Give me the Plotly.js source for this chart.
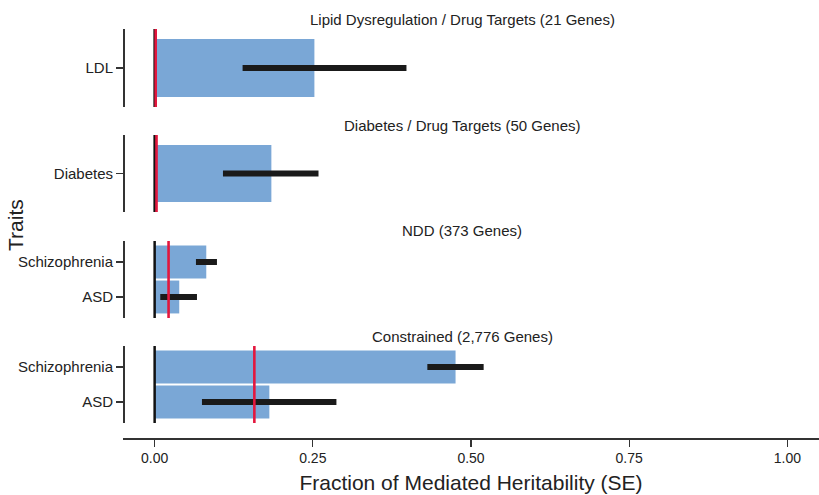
<!DOCTYPE html>
<html>
<head>
<meta charset="utf-8">
<script src="https://cdn.plot.ly/plotly-3.0.1.min.js"></script>
<style>html,body{margin:0;padding:0;background:#fff;}#chart{width:819px;height:495px;}</style>
</head>
<body>
<div id="chart"></div>
<script>
// ---- data ----
const panelTitles = ["Lipid Dysregulation / Drug Targets (21 Genes)", "Diabetes / Drug Targets (50 Genes)", "NDD (373 Genes)", "Constrained (2,776 Genes)"];
const ldlTraits = ["LDL"];
const ldlValues = [0.2525];
const ldlLow = [0.139];
const ldlHigh = [0.398];
const ldlRef = 0.0017;

const diabTraits = ["Diabetes"];
const diabValues = [0.1845];
const diabLow = [0.108];
const diabHigh = [0.259];
const diabRef = 0.003;

const nddTraits = ["ASD", "Schizophrenia"];
const nddValues = [0.0389, 0.0816];
const nddLow = [0.0089, 0.0653];
const nddHigh = [0.0669, 0.0985];
const nddRef = 0.022;

const conTraits = ["ASD", "Schizophrenia"];
const conValues = [0.1813, 0.4756];
const conLow = [0.0748, 0.431];
const conHigh = [0.2873, 0.520];
const conRef = 0.1576;

const xTickVals = [0, 0.25, 0.5, 0.75, 1.0];
const xTickText = ["0.00", "0.25", "0.50", "0.75", "1.00"];

// ---- styling ----
const font = "Liberation Sans, Arial, Helvetica, sans-serif";
const barColor = "#7aa7d6";
const errColor = "#1a1a1a";
const refColor = "#e3173e";
const axisColor = "#333333";

const panels = [
  {traits: ldlTraits, vals: ldlValues, lo: ldlLow, hi: ldlHigh, ref: ldlRef, ax: "y", dom: [0.8093, 1.0], rng: [-0.6, 0.6], w: 0.89},
  {traits: diabTraits, vals: diabValues, lo: diabLow, hi: diabHigh, ref: diabRef, ax: "y2", dom: [0.5526, 0.7408], rng: [-0.6, 0.6], w: 0.89},
  {traits: nddTraits, vals: nddValues, lo: nddLow, hi: nddHigh, ref: nddRef, ax: "y3", dom: [0.2934, 0.4817], rng: [-0.6, 1.6], w: 0.94},
  {traits: conTraits, vals: conValues, lo: conLow, hi: conHigh, ref: conRef, ax: "y4", dom: [0.0367, 0.2249], rng: [-0.6, 1.6], w: 0.94}
];

const traces = [];
const shapes = [];
const annotations = [];
const layout = {
  width: 819, height: 495,
  margin: {l: 123, r: 0, t: 29, b: 57, pad: 0},
  paper_bgcolor: "#fff", plot_bgcolor: "#fff",
  showlegend: false,
  hovermode: false,
  xaxis: {
    range: [-0.05, 1.05], anchor: "free", position: 0,
    tickvals: xTickVals, ticktext: xTickText,
    ticks: "outside", ticklen: 7, tickwidth: 1.3, tickcolor: axisColor,
    showline: true, linecolor: axisColor, linewidth: 1.5,
    showgrid: false, zeroline: false,
    tickfont: {family: font, size: 14, color: "#222"},
    title: {text: "Fraction of Mediated Heritability (SE)", font: {family: font, size: 21, color: "#222"}, standoff: 10},
    automargin: false
  }
};

panels.forEach((p, i) => {
  const axName = i === 0 ? "yaxis" : "yaxis" + (i + 1);
  layout[axName] = {
    domain: p.dom, anchor: "free", position: 0,
    type: "category", categoryorder: "array", categoryarray: p.traits,
    range: p.rng,
    ticks: "outside", ticklen: 7, tickwidth: 1.3, tickcolor: axisColor,
    showline: true, linecolor: axisColor, linewidth: 1.5,
    showgrid: false, zeroline: false,
    tickfont: {family: font, size: 15, color: "#222"},
    automargin: false
  };
  traces.push({
    type: "bar", orientation: "h",
    x: p.vals, y: p.traits, xaxis: "x", yaxis: p.ax,
    width: p.w,
    marker: {color: barColor, line: {width: 0}},
    error_x: {
      type: "data", symmetric: false,
      array: p.vals.map((v, k) => p.hi[k] - v),
      arrayminus: p.vals.map((v, k) => v - p.lo[k]),
      thickness: 6, width: 0, color: errColor
    }
  });
  shapes.push({type: "line", xref: "x", yref: p.ax + " domain", x0: 0, x1: 0, y0: 0, y1: 1,
    line: {color: "#111", width: 2.5}, layer: "above"});
  shapes.push({type: "line", xref: "x", yref: p.ax + " domain", x0: p.ref, x1: p.ref, y0: 0, y1: 1,
    line: {color: refColor, width: 2.6}, layer: "above"});
  annotations.push({
    text: panelTitles[i], xref: "paper", yref: p.ax + " domain",
    x: (462 - 123) / 696, y: 1, yshift: 10, xanchor: "center", yanchor: "middle",
    showarrow: false, font: {family: font, size: 15, color: "#222"}
  });
});

annotations.push({
  text: "Traits", xref: "paper", yref: "paper",
  x: (15 - 123) / 696, y: (438 - 225) / 409, xanchor: "center", yanchor: "middle",
  textangle: -90, showarrow: false, font: {family: font, size: 21, color: "#222"}
});

layout.shapes = shapes;
layout.annotations = annotations;

Plotly.newPlot("chart", traces, layout, {staticPlot: true, displayModeBar: false});
</script>
</body>
</html>
